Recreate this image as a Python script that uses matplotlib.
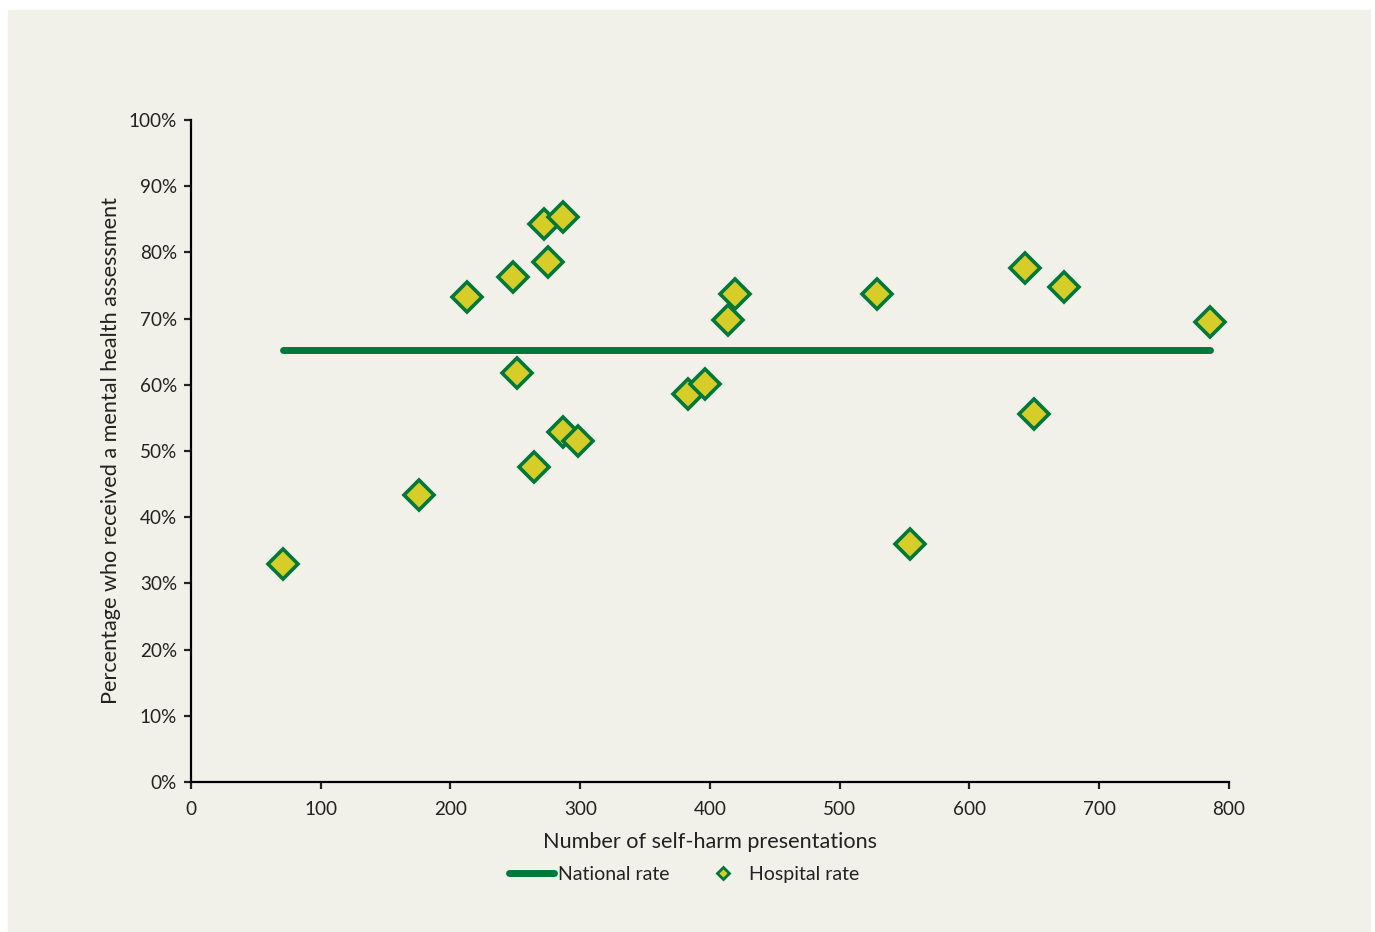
import matplotlib.pyplot as plt
from matplotlib.lines import Line2D
from matplotlib.patches import Rectangle
from matplotlib.ticker import PercentFormatter

plt.rcParams['font.family'] = ['Lato', 'DejaVu Sans']

# hospital data
presentations = [71, 176, 213, 248, 251, 272, 287, 275, 287, 298, 264,
                 383, 396, 414, 419, 529, 554, 643, 650, 673, 785]
assessed_pct = [32.9, 43.4, 73.3, 76.3, 61.8, 84.3, 85.3, 78.5, 52.9, 51.5, 47.6,
                58.6, 60.1, 69.8, 73.7, 73.7, 36.0, 77.6, 55.6, 74.8, 69.5]
national_rate = 65.3

green = '#00783A'
yellow = '#D6CD28'
bg = '#F1F0E9'
txt = '#222222'

fig = plt.figure(figsize=(13.75, 9.32), dpi=100)
fig.patches.append(Rectangle((8 / 1375, 0), 1362 / 1375, 922 / 932,
                             transform=fig.transFigure, color=bg, zorder=-10))
ax = fig.add_axes([191 / 1375, 1 - 782 / 932, 1038 / 1375, 662 / 932])
ax.set_facecolor(bg)

xs = [min(presentations), max(presentations)]
ax.plot(xs, [national_rate] * 2, color=green, lw=5, solid_capstyle='round', zorder=2)
ax.plot(presentations, assessed_pct, 'D', ms=15, mfc=yellow, mec=green, mew=2.6,
        linestyle='none', zorder=3)

ax.set_xlim(0, 800)
ax.set_ylim(0, 100)
ax.set_xticks(range(0, 801, 100))
ax.set_yticks(range(0, 101, 10))
ax.yaxis.set_major_formatter(PercentFormatter(decimals=0))
for s in ['top', 'right']:
    ax.spines[s].set_visible(False)
for s in ['left', 'bottom']:
    ax.spines[s].set_linewidth(1.6)
ax.tick_params(length=5, width=1.6, labelsize=13.6, colors=txt, labelcolor=txt)
ax.tick_params(axis='x', pad=9)
ax.tick_params(axis='y', pad=5)

ax.set_xlabel('Number of self-harm presentations', fontsize=15.6, color=txt, labelpad=10)
ax.set_ylabel('Percentage who received a mental health assessment', fontsize=15.6,
              color=txt, labelpad=6)

handles = [Line2D([], [], color=green, lw=5, solid_capstyle='round'),
           Line2D([], [], marker='D', ls='none', ms=6, mfc=yellow, mec=green, mew=2)]
ax.legend(handles, ['National rate', 'Hospital rate'], loc='upper center',
          bbox_to_anchor=(0.475, -0.1), ncol=2, frameon=False, fontsize=14,
          handlelength=2.3, handletextpad=0.2, columnspacing=1.6,
          labelcolor=txt)

fig.savefig('out.png', dpi=100, facecolor='white')
